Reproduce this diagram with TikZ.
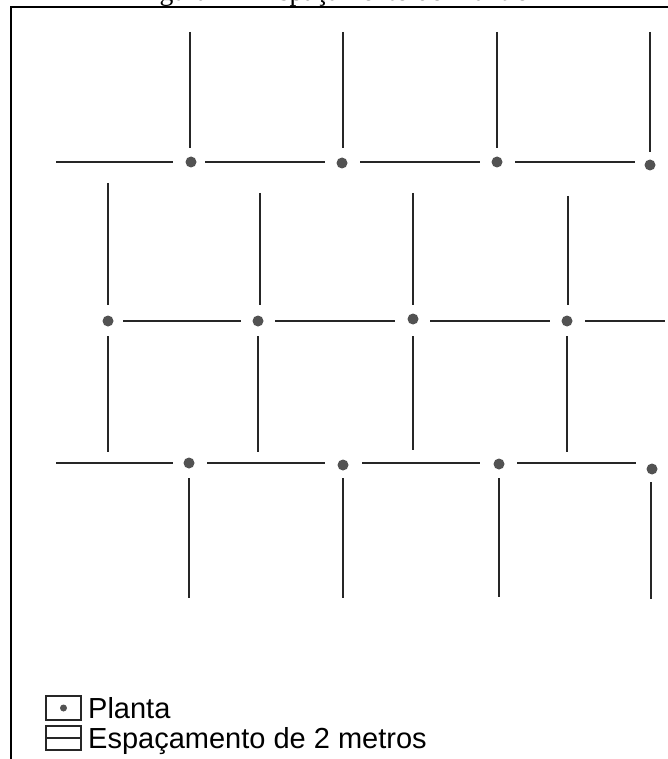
\documentclass[tikz,border=0pt]{standalone}
\usepackage{fontspec}
\setmainfont{Liberation Serif}
\newfontfamily\arialf{Liberation Sans}
\begin{document}
\begin{tikzpicture}[x=1pt,y=-1pt,
  gridline/.style={line width=1.8pt, draw=black!85},
  plant/.style={circle, fill=black!68, inner sep=0pt, minimum size=11pt},
  frameline/.style={line width=2.6pt, black},
  legbox/.style={draw=black!85, line width=1.2pt},
  legtext/.style={anchor=base west, inner sep=0pt, font=\arialf\fontsize{29}{32}\selectfont}]
\useasboundingbox (0,0) rectangle (667,759);
\node[anchor=base, inner sep=0pt, font=\fontsize{27.7}{30}\selectfont] (title) at (333,0.5) {Figura II – Espaçamento do Plantio};
\draw[frameline] (11,770) -- (11,7) -- (680,7);
% row 1
\draw[gridline] (190,32) -- (190,148) (343,32) -- (343,148) (497,32) -- (497,148) (650,32) -- (650,152);
\draw[gridline] (56,162) -- (173,162) (205,162) -- (325,162) (360,162) -- (480,162) (515,162) -- (635,162);
\node[plant] (p11) at (191,162) {};
\node[plant] (p12) at (342,163) {};
\node[plant] (p13) at (497,162) {};
\node[plant] (p14) at (650,165) {};
% row 2
\draw[gridline] (108,183) -- (108,305) (260,193) -- (260,305) (413,193) -- (413,305) (568,196) -- (568,305);
\draw[gridline] (123,321) -- (241,321) (275,321) -- (395,321) (430,321) -- (550,321) (585,321) -- (665,321);
\draw[gridline] (108,336) -- (108,452) (258,336) -- (258,452) (413,336) -- (413,450) (567,336) -- (567,452);
\node[plant] (p21) at (108,321) {};
\node[plant] (p22) at (258,321) {};
\node[plant] (p23) at (413,319) {};
\node[plant] (p24) at (567,321) {};
% row 3
\draw[gridline] (56,463) -- (173,463) (207,463) -- (325,463) (362,463) -- (480,463) (517,463) -- (636,463);
\draw[gridline] (189,478) -- (189,598) (343,478) -- (343,598) (499,478) -- (499,597) (651,482) -- (651,599);
\node[plant] (p31) at (189,463) {};
\node[plant] (p32) at (343,465) {};
\node[plant] (p33) at (499,464) {};
\node[plant] (p34) at (652,469) {};
% legend
\draw[legbox] (46,696) rectangle (81,720);
\node[plant, minimum size=7pt] (lp) at (63.5,708) {};
\draw[legbox] (46,726) rectangle (81,750);
\draw[legbox] (46,738) -- (81,738);
\node[legtext] (lt1) at (88,718) {Planta};
\node[legtext] (lt2) at (88,748) {Espaçamento de 2 metros};
\end{tikzpicture}
\end{document}
